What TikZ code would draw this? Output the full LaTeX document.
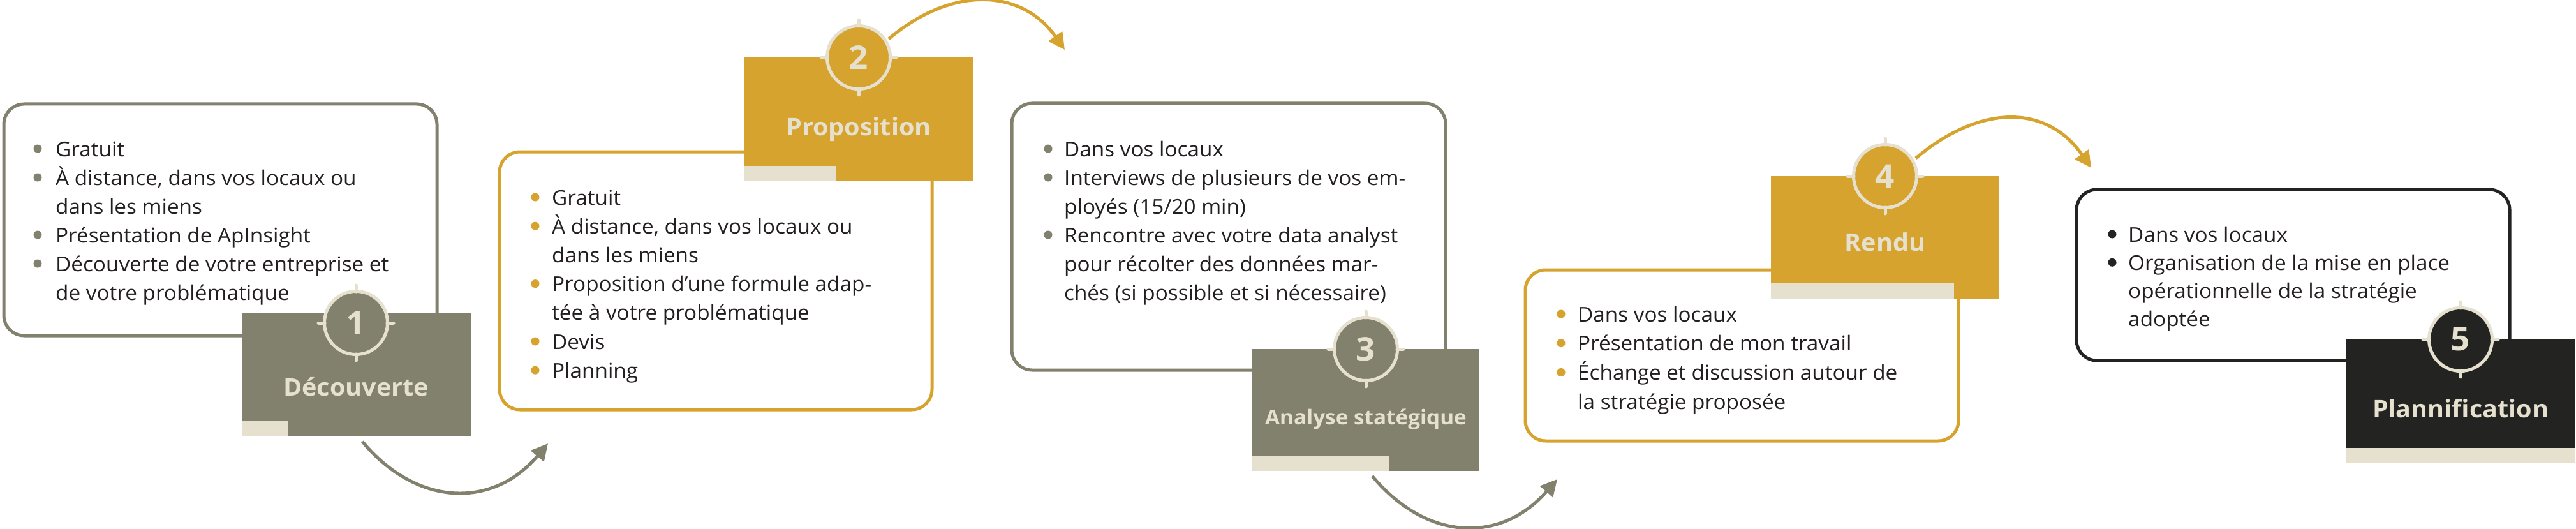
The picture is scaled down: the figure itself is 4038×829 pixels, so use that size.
\documentclass[tikz,border=0pt]{standalone}
\usepackage{fontspec}
\setmainfont{Open Sans}[FakeStretch=1.04]
\usetikzlibrary{arrows.meta}
\definecolor{cgray}{HTML}{81816E}
\definecolor{cgold}{HTML}{D7A32F}
\definecolor{ccream}{HTML}{E6E0CF}
\definecolor{cdark}{HTML}{232321}
\definecolor{ctext}{HTML}{231F20}
\tikzset{
  box/.style={line width=5pt, rounded corners=32pt, fill=white},
  txt/.style={anchor=base west, inner sep=0pt, text=ctext, font=\fontsize{32}{45}\selectfont},
  lbl/.style={anchor=base, inner sep=0pt, text=ccream, font=\bfseries\fontsize{38}{46}\selectfont},
  num/.style={circle, minimum size=99pt, inner sep=0pt, line width=5pt, draw=ccream, text=ccream, font=\bfseries\fontsize{51}{60}\selectfont},
  tick/.style={draw=ccream, line width=5pt, line cap=round},
  flow/.style={line width=5pt, -{Triangle[length=26pt,width=26pt]}},
}
\newcommand\mkticks[1]{%
  \draw[tick] (#1.north) ++(0,3) -- ++(0,-10);
  \draw[tick] (#1.south) ++(0,-3) -- ++(0,10);
  \draw[tick] (#1.west) ++(3,0) -- ++(-10,0);
  \draw[tick] (#1.east) ++(-3,0) -- ++(10,0);
}
\begin{document}
\begin{tikzpicture}[x=1pt,y=-1pt]
\useasboundingbox (0,0) rectangle (4038,829);
\fill[white] (0,0) rectangle (4038,829);

% ---------- boxes ----------
\draw[box, draw=cgray] (6,163) rectangle (685,526);
\draw[box, draw=cgold] (783,238) rectangle (1461,642);
\draw[box, draw=cgray] (1586,162) rectangle (2266,580);
\draw[box, draw=cgold] (2391,423) rectangle (3070,691);
\draw[box, draw=cdark] (3255,297) rectangle (3934,565);

% ---------- box texts ----------
\foreach \t [count=\i] in {Gratuit, {À distance, dans vos locaux ou}, dans les miens, Présentation de ApInsight, Découverte de votre entreprise et, de votre problématique}
  \node[txt] (ba\i) at (87,{245+45*(\i-1)}) {\t};
\foreach \k in {1,2,4,5} \fill[cgray] (59,{245+45*(\k-1)-12}) circle[radius=6.5pt];

\foreach \t [count=\i] in {Gratuit, {À distance, dans vos locaux ou}, dans les miens, Proposition d’une formule adap-, tée à votre problématique, Devis, Planning}
  \node[txt] (bb\i) at (865,{321+45.2*(\i-1)}) {\t};
\foreach \k in {1,2,4,6,7} \fill[cgold] (839,{321+45.2*(\k-1)-12}) circle[radius=6.5pt];

\foreach \t [count=\i] in {Dans vos locaux, Interviews de plusieurs de vos em-, ployés (15/20 min), Rencontre avec votre data analyst, pour récolter des données mar-, chés (si possible et si nécessaire)}
  \node[txt] (bc\i) at (1668,{245+45*(\i-1)}) {\t};
\foreach \k in {1,2,4} \fill[cgray] (1643,{245+45*(\k-1)-12}) circle[radius=6.5pt];

\foreach \t [count=\i] in {Dans vos locaux, Présentation de mon travail, Échange et discussion autour de, la stratégie proposée}
  \node[txt] (bd\i) at (2473,{504+45.7*(\i-1)}) {\t};
\foreach \k in {1,2,3} \fill[cgold] (2447,{504+45.7*(\k-1)-12}) circle[radius=6.5pt];

\foreach \t [count=\i] in {Dans vos locaux, Organisation de la mise en place, opérationnelle de la stratégie, adoptée}
  \node[txt] (be\i) at (3336,{379+44.3*(\i-1)}) {\t};
\foreach \k in {1,2} \fill[cdark] (3311,{379+44.3*(\k-1)-12}) circle[radius=6.5pt];

% ---------- step rectangles ----------
\fill[cgray] (379,491) rectangle (738,684);
\fill[ccream] (379,660) rectangle (451,684);
\fill[cgold] (1167,90) rectangle (1525,284);
\fill[ccream] (1167,260) rectangle (1310,284);
\fill[cgray] (1962,547) rectangle (2319,738);
\fill[ccream] (1962,715) rectangle (2177,738);
\fill[cgold] (2776,276) rectangle (3134,468);
\fill[ccream] (2776,444) rectangle (3063,468);
\fill[cdark] (3678,531) rectangle (4036,725);
\fill[ccream] (3678,702) rectangle (4036,725);

% ---------- numbered circles ----------
\node[num, fill=cgray] (n1) at (558,506) {1}; \mkticks{n1}
\node[num, fill=cgold] (n2) at (1346,90) {2}; \mkticks{n2}
\node[num, fill=cgray] (n3) at (2141,547) {3}; \mkticks{n3}
\node[num, fill=cgold] (n4) at (2955,276) {4}; \mkticks{n4}
\node[num, fill=cdark] (n5) at (3857,532) {5}; \mkticks{n5}

% ---------- labels ----------
\node[lbl] (l1) at (558,620) {Découverte};
\node[lbl] (l2) at (1346,212) {Proposition};
\node[lbl, font=\bfseries\fontsize{32}{40}\selectfont] (l3) at (2141,665) {Analyse statégique};
\node[lbl] (l4) at (2955,393) {Rendu};
\node[lbl] (l5) at (3857,654) {Plannification};

% ---------- connectors ----------
\coordinate (a1s) at (568,692); \coordinate (a1e) at (859,695);
\draw[flow, cgray] (a1s) .. controls (654,795) and (773,797) .. (a1e);
\coordinate (a2s) at (1393,61); \coordinate (a2e) at (1669,78);
\draw[flow, cgold] (a2s) .. controls (1495,-25) and (1603,-16) .. (a2e);
\coordinate (a3s) at (2151,746); \coordinate (a3e) at (2441,751);
\draw[flow, cgray] (a3s) .. controls (2238,850) and (2354,851) .. (a3e);
\coordinate (a4s) at (3003,248); \coordinate (a4e) at (3278,263);
\draw[flow, cgold] (a4s) .. controls (3104,163) and (3208,163) .. (a4e);
\end{tikzpicture}
\end{document}
